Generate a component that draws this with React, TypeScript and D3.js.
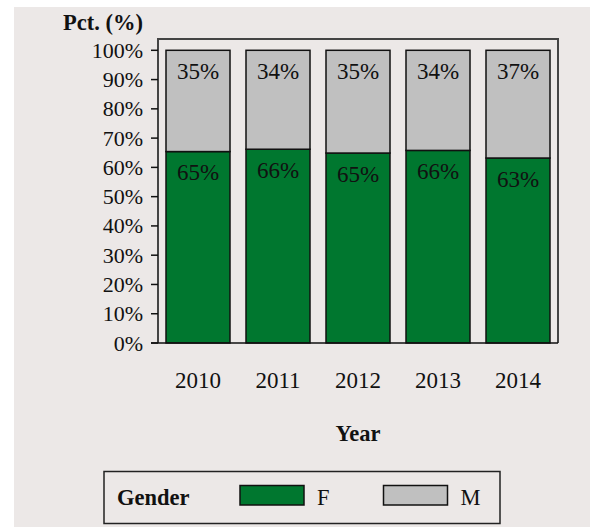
import React from "react";
import * as d3 from "d3";

const years = ["2010", "2011", "2012", "2013", "2014"];
const femaleValues = [65.4, 66.2, 64.9, 65.8, 63.2];
const maleValues = [34.6, 33.8, 35.1, 34.2, 36.8];
const femaleLabels = ["65%", "66%", "65%", "66%", "63%"];
const maleLabels = ["35%", "34%", "35%", "34%", "37%"];
const yTicks = [0, 10, 20, 30, 40, 50, 60, 70, 80, 90, 100];
const legendItems = ["F", "M"];

const W = 594;
const H = 527;
const GREEN = "#00772f";
const GREY = "#c0c0c0";
const BG = "#ece8e7";
const FONT = "'Liberation Serif', 'Times New Roman', serif";

export default function App() {
  const left = 158;
  const right = 558;
  const top = 39;
  const bottom = 343;
  const x = d3.scaleBand<string>().domain(years).range([left, right]).paddingInner(0.2).paddingOuter(0.1);
  const y = d3.scaleLinear().domain([0, 100]).range([bottom, 50.3]);

  const stacked = years.map((yr, i) => ({
    yr,
    f: femaleValues[i],
    m: maleValues[i],
    fl: femaleLabels[i],
    ml: maleLabels[i],
  }));

  return (
    <svg width={W} height={H} style={{ position: "absolute", left: 0, top: 0, display: "block" }} fontFamily={FONT}>
      <rect x={14} y={7} width={576} height={520} fill={BG} />
      {/* frame */}
      <path d={`M${left},${bottom} V${top} H${right} V${bottom}`} fill="none" stroke="#444" strokeWidth={2} />
      {/* bars */}
      {stacked.map((d) => {
        const bx = x(d.yr)!;
        const bw = x.bandwidth();
        const fTop = y(d.f);
        const mTop = y(d.f + d.m);
        return (
          <g key={d.yr}>
            <rect x={bx} y={fTop} width={bw} height={y(0) - fTop} fill={GREEN} stroke="#111" strokeWidth={1.5} />
            <rect x={bx} y={mTop} width={bw} height={fTop - mTop} fill={GREY} stroke="#111" strokeWidth={1.5} />
            <text x={bx + bw / 2} y={mTop + 28.5} textAnchor="middle" fontSize={23} fill="#111">{d.ml}</text>
            <text x={bx + bw / 2} y={fTop + 28.5} textAnchor="middle" fontSize={23} fill="#111">{d.fl}</text>
            <text x={bx + bw / 2} y={388} textAnchor="middle" fontSize={23} fill="#111">{d.yr}</text>
          </g>
        );
      })}
      {/* x axis line */}
      <line x1={left - 7} x2={right} y1={bottom} y2={bottom} stroke="#111" strokeWidth={1.5} />
      {/* y axis ticks */}
      {yTicks.map((t) => (
        <g key={t}>
          <line x1={151} x2={left} y1={y(t)} y2={y(t)} stroke="#111" strokeWidth={1.5} />
          <text x={143} y={y(t) + 7.5} textAnchor="end" fontSize={22} fill="#111">{`${t}%`}</text>
        </g>
      ))}
      <text x={143} y={30} textAnchor="end" fontSize={22.5} fontWeight="bold" fill="#111">Pct. (%)</text>
      <text x={358} y={441} textAnchor="middle" fontSize={22.5} fontWeight="bold" fill="#111">Year</text>
      {/* legend */}
      <rect x={104} y={471.5} width={396} height={52} fill="none" stroke="#222" strokeWidth={1.5} />
      <text x={117} y={505} fontSize={22.5} fontWeight="bold" fill="#111">Gender</text>
      {legendItems.map((item, i) => {
        const kx = 240 + i * 143.5;
        return (
          <g key={item}>
            <rect x={kx} y={485.5} width={64} height={19.5} fill={i === 0 ? GREEN : GREY} stroke="#111" strokeWidth={1.5} />
            <text x={kx + 77} y={505} fontSize={22.5} fill="#111">{item}</text>
          </g>
        );
      })}
    </svg>
  );
}
